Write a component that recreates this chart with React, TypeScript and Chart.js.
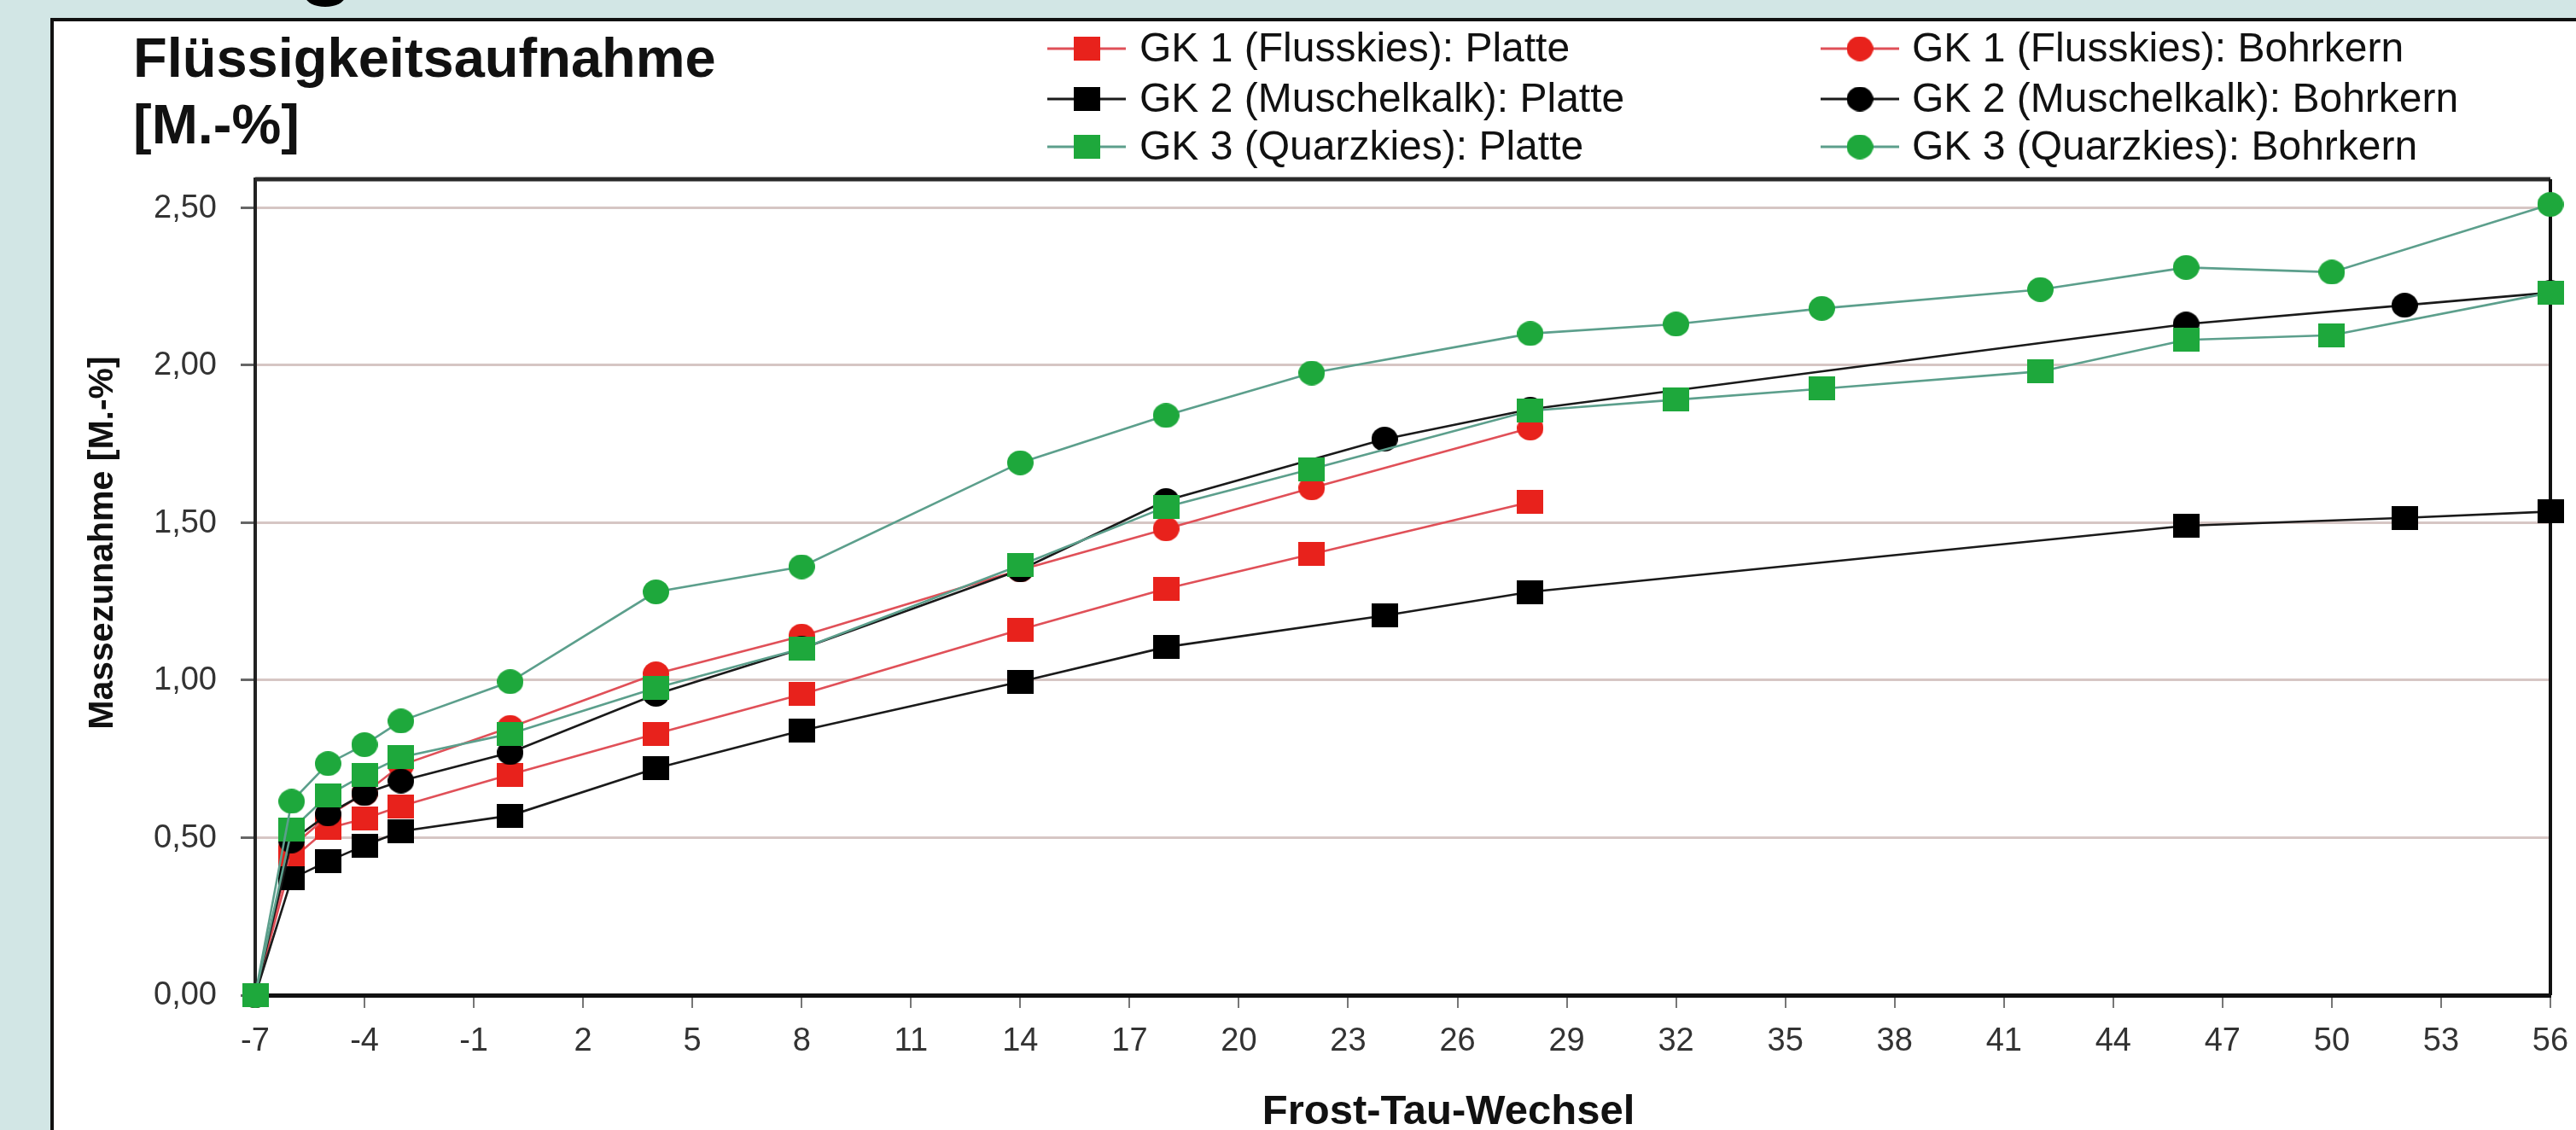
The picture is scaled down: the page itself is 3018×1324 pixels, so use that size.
import React, { useEffect, useRef } from "react";
import { Chart, registerables } from "chart.js";

Chart.register(...registerables);

// ---- axis ticks ----
const xTickValues = [-7, -4, -1, 2, 5, 8, 11, 14, 17, 20, 23, 26, 29, 32, 35, 38, 41, 44, 47, 50, 53, 56];
const xTickLabels = ["-7", "-4", "-1", "2", "5", "8", "11", "14", "17", "20", "23", "26", "29", "32", "35", "38", "41", "44", "47", "50", "53", "56"];
const yTickValues = [0, 0.5, 1, 1.5, 2, 2.5];
const yTickLabels = ["0,00", "0,50", "1,00", "1,50", "2,00", "2,50"];

// ---- series ----
const seriesLabels = [
  "GK 1 (Flusskies): Platte",
  "GK 1 (Flusskies): Bohrkern",
  "GK 2 (Muschelkalk): Platte",
  "GK 2 (Muschelkalk): Bohrkern",
  "GK 3 (Quarzkies): Platte",
  "GK 3 (Quarzkies): Bohrkern",
];

const gk1PlatteX = [-7, -6, -5, -4, -3, 0, 4, 8, 14, 18, 22, 28];
const gk1PlatteY = [0, 0.43, 0.53, 0.56, 0.6, 0.7, 0.83, 0.955, 1.16, 1.29, 1.4, 1.565];

const gk1BohrkernX = [-7, -6, -5, -4, -3, 0, 4, 8, 14, 18, 22, 28];
const gk1BohrkernY = [0, 0.47, 0.57, 0.64, 0.73, 0.85, 1.02, 1.14, 1.35, 1.48, 1.61, 1.8];

const gk2PlatteX = [-7, -6, -5, -4, -3, 0, 4, 8, 14, 18, 24, 28, 46, 52, 56];
const gk2PlatteY = [0, 0.37, 0.425, 0.475, 0.52, 0.57, 0.72, 0.84, 0.995, 1.105, 1.205, 1.28, 1.49, 1.515, 1.535];

const gk2BohrkernX = [-7, -6, -5, -4, -3, 0, 4, 8, 14, 18, 24, 28, 46, 52, 56];
const gk2BohrkernY = [0, 0.49, 0.575, 0.64, 0.68, 0.77, 0.955, 1.1, 1.35, 1.57, 1.765, 1.86, 2.13, 2.19, 2.23];

const gk3PlatteX = [-7, -6, -5, -4, -3, 0, 4, 8, 14, 18, 22, 28, 32, 36, 42, 46, 50, 56];
const gk3PlatteY = [0, 0.525, 0.635, 0.7, 0.755, 0.83, 0.975, 1.1, 1.365, 1.55, 1.67, 1.855, 1.89, 1.925, 1.98, 2.08, 2.095, 2.23];

const gk3BohrkernX = [-7, -6, -5, -4, -3, 0, 4, 8, 14, 18, 22, 28, 32, 36, 42, 46, 50, 56];
const gk3BohrkernY = [0, 0.615, 0.735, 0.795, 0.87, 0.995, 1.28, 1.36, 1.69, 1.84, 1.975, 2.1, 2.13, 2.18, 2.24, 2.31, 2.295, 2.51];

const seriesX = [gk1PlatteX, gk1BohrkernX, gk2PlatteX, gk2BohrkernX, gk3PlatteX, gk3BohrkernX];
const seriesY = [gk1PlatteY, gk1BohrkernY, gk2PlatteY, gk2BohrkernY, gk3PlatteY, gk3BohrkernY];
const seriesShapes = ["rect", "circle", "rect", "circle", "rect", "circle"];
const markerColors = ["#e8221c", "#e8221c", "#000000", "#000000", "#1ea83c", "#1ea83c"];
const lineColors = ["#e05058", "#e05058", "#1a1a1a", "#1a1a1a", "#5c9f8c", "#5c9f8c"];

const titleLines = ["Flüssigkeitsaufnahme", "[M.-%]"];
const yAxisTitle = "Massezunahme [M.-%]";
const xAxisTitle = "Frost-Tau-Wechsel";

const FONT = "'Liberation Sans', Arial, Helvetica, sans-serif";

const W = 3018;
const H = 1324;

function makeMarker(shape: string, color: string): HTMLCanvasElement {
  const c = document.createElement("canvas");
  const w = 31;
  const h = shape === "rect" ? 28 : 29;
  c.width = w;
  c.height = h;
  const g = c.getContext("2d")!;
  g.fillStyle = color;
  if (shape === "rect") {
    g.fillRect(0, 0, w, h);
  } else {
    g.beginPath();
    g.ellipse(w / 2, h / 2, w / 2, h / 2, 0, 0, Math.PI * 2);
    g.fill();
  }
  return c;
}

function drawText(
  ctx: CanvasRenderingContext2D,
  text: string,
  x: number,
  y: number,
  font: string,
  align: CanvasTextAlign,
  baseline: CanvasTextBaseline
) {
  ctx.font = font;
  ctx.textAlign = align;
  ctx.textBaseline = baseline;
  ctx.fillText(text, x, y);
}

export default function App() {
  const canvasRef = useRef<HTMLCanvasElement | null>(null);

  useEffect(() => {
    const canvas = canvasRef.current;
    if (!canvas) return;

    const markers = seriesShapes.map((s, i) => makeMarker(s, markerColors[i]));

    const datasets = seriesLabels.map((label, i) => ({
      label,
      data: seriesX[i].map((x, j) => ({ x, y: seriesY[i][j] })),
      borderColor: lineColors[i],
      borderWidth: 2.6,
      backgroundColor: markerColors[i],
      pointStyle: markers[i],
      pointRadius: 15,
      tension: 0,
      fill: false,
      clip: false,
      order: seriesLabels.length - i,
    }));

    const decor = {
      id: "decor",
      beforeDatasetsDraw(chart: any) {
        const { ctx, chartArea } = chart;
        ctx.save();
        ctx.strokeStyle = "#2a2a2a";
        ctx.lineWidth = 5;
        ctx.beginPath();
        ctx.moveTo(chartArea.left, chartArea.top);
        ctx.lineTo(chartArea.right, chartArea.top);
        ctx.stroke();
        ctx.lineWidth = 4;
        ctx.strokeStyle = "#111";
        ctx.beginPath();
        ctx.moveTo(chartArea.right, chartArea.top);
        ctx.lineTo(chartArea.right, chartArea.bottom);
        ctx.stroke();
        ctx.restore();
      },
      afterDraw(chart: any) {
        const { ctx } = chart;
        const xs = chart.scales.x;
        const ys = chart.scales.y;
        ctx.save();

        // tick labels (positions from the scales)
        ctx.fillStyle = "#333";
        yTickValues.forEach((v, i) => {
          drawText(ctx, yTickLabels[i], 254, ys.getPixelForValue(v) + 1, `38px ${FONT}`, "right", "middle");
        });
        xTickValues.forEach((v, i) => {
          drawText(ctx, xTickLabels[i], xs.getPixelForValue(v), 1221, `38px ${FONT}`, "center", "middle");
        });

        ctx.fillStyle = "#111";
        // title
        drawText(ctx, titleLines[0], 156, 90, `bold 65px ${FONT}`, "left", "alphabetic");
        drawText(ctx, titleLines[1], 156, 168, `bold 65px ${FONT}`, "left", "alphabetic");

        // y axis title
        ctx.save();
        ctx.translate(121, 636);
        ctx.rotate(-Math.PI / 2);
        drawText(ctx, yAxisTitle, 0, 0, `bold 41px ${FONT}`, "center", "middle");
        ctx.restore();

        // x axis title
        drawText(ctx, xAxisTitle, 1697, 1317, `bold 49px ${FONT}`, "center", "alphabetic");

        // legend (2 columns x 3 rows)
        const colMarkerX = [1273, 2179];
        const colTextX = [1335, 2240];
        const rowY = [57, 116, 172];
        seriesLabels.forEach((label, i) => {
          const col = i % 2;
          const row = Math.floor(i / 2);
          const cx = colMarkerX[col];
          const cy = rowY[row];
          ctx.strokeStyle = lineColors[i];
          ctx.lineWidth = 3;
          ctx.beginPath();
          ctx.moveTo(cx - 46, cy);
          ctx.lineTo(cx + 46, cy);
          ctx.stroke();
          const m = markers[i];
          ctx.drawImage(m, cx - m.width / 2, cy - m.height / 2);
          ctx.fillStyle = "#111";
          drawText(ctx, label, colTextX[col], cy + 2, `48px ${FONT}`, "left", "middle");
        });
        ctx.restore();
      },
    };

    const chart = new Chart(canvas, {
      type: "line",
      data: { datasets: datasets as any },
      plugins: [decor],
      options: {
        responsive: false,
        animation: false,
        layout: { padding: { left: 60, right: 30, top: 210, bottom: 0 } },
        plugins: {
          legend: { display: false },
          title: { display: false },
          tooltip: { enabled: false },
        },
        scales: {
          x: {
            type: "linear",
            min: -7,
            max: 56,
            afterBuildTicks: (s: any) => {
              s.ticks = xTickValues.map((v) => ({ value: v }));
            },
            afterFit: (s: any) => {
              s.height = 158;
            },
            grid: {
              drawOnChartArea: false,
              drawTicks: true,
              tickLength: 15,
              tickColor: "#777",
              lineWidth: 2,
            },
            border: { display: true, color: "#111", width: 5 },
            ticks: { display: false },
          },
          y: {
            type: "linear",
            min: 0,
            max: 2.59,
            afterBuildTicks: (s: any) => {
              s.ticks = yTickValues.map((v) => ({ value: v }));
            },
            afterFit: (s: any) => {
              s.width = 239;
            },
            grid: {
              color: "#d6c6c4",
              lineWidth: 3,
              drawTicks: true,
              tickLength: 17,
              tickColor: "#666",
            },
            border: { display: true, color: "#222", width: 4 },
            ticks: { display: false },
          },
        },
      },
    });

    return () => chart.destroy();
  }, []);

  return (
    <div
      style={{
        position: "fixed",
        left: 0,
        top: 0,
        width: W,
        height: H,
        background: "#d2e6e5",
        overflow: "hidden",
      }}
    >
      <div
        style={{
          position: "absolute",
          left: 358,
          top: -16,
          width: 46,
          height: 24,
          borderRadius: "50%",
          background: "#000",
        }}
      />
      <div
        style={{
          position: "absolute",
          left: 59,
          top: 21,
          width: W,
          height: H,
          background: "#ffffff",
          border: "4px solid #111",
          boxSizing: "border-box",
        }}
      />
      <canvas
        ref={canvasRef}
        width={W}
        height={H}
        style={{ position: "absolute", left: 0, top: 0, width: W, height: H }}
      />
    </div>
  );
}
